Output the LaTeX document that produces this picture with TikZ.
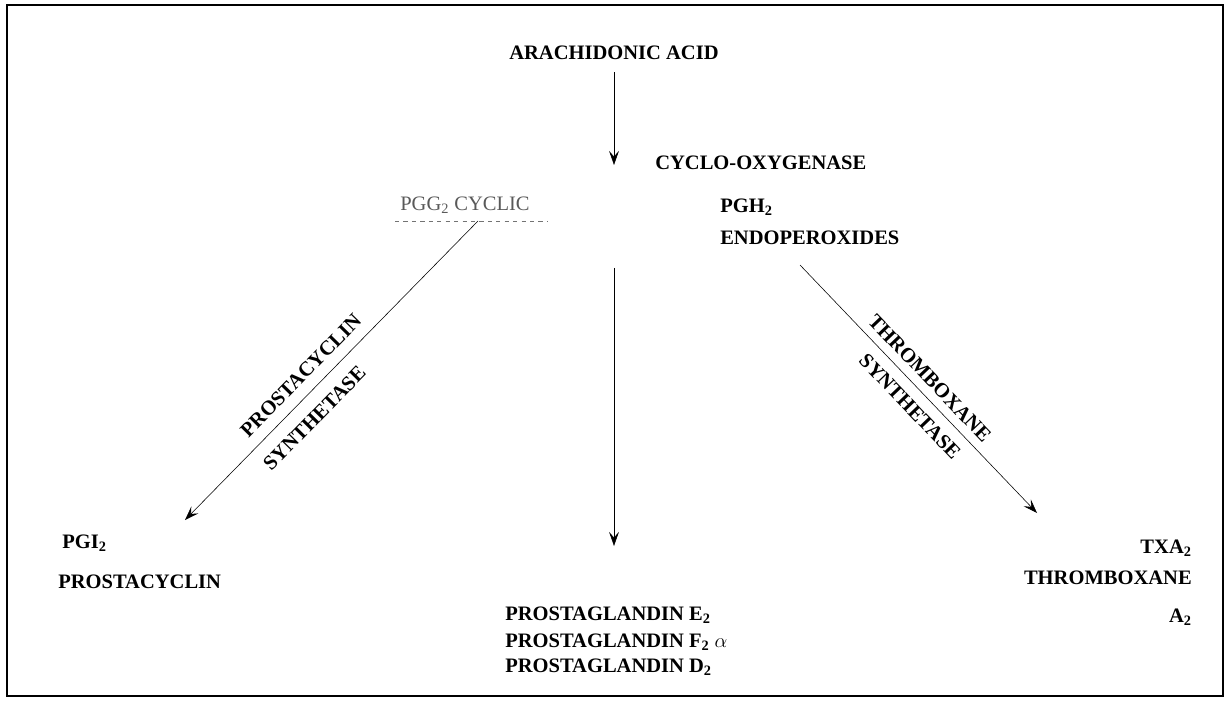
\documentclass[tikz,border=0pt]{standalone}
\usepackage{fontspec}
\setmainfont{Liberation Serif}
\usetikzlibrary{arrows.meta}

\tikzset{
  lbl/.style={font=\fontsize{14.6}{17}\selectfont\bfseries, inner sep=0pt},
  faint/.style={font=\fontsize{14.6}{17}\selectfont, inner sep=0pt, black!65},
}

\begin{document}
\begin{tikzpicture}[x=0.025cm, y=-0.025cm, >={Stealth[length=10pt,width=7pt,inset=4pt]}]
     \useasboundingbox (0,0) rectangle (1231,702);
     \draw[line width=0.8pt] (7,5) rectangle (1223,696);
     % top
     \node[lbl] (aa) at (614,53) {ARACHIDONIC ACID};
     \coordinate (cox) at (614,165);
     \draw[->,shorten <=3mm] (aa) -- (cox);
     \node[lbl,anchor=west] (cyc) at (655,163) {CYCLO-OXYGENASE};
     \node[faint,anchor=west] (pgg) at (400,205) {PGG\textsubscript{2} CYCLIC};
     \draw[black!55,dashed,thin] (395,221) -- (548,221);
     \node[lbl,anchor=west] (pgh) at (720,207) {PGH\textsubscript{2}};
     \node[lbl,anchor=west] (endo) at (720,238) {ENDOPEROXIDES};
     % arrow ends
     \coordinate (pggs) at (478,221);
     \coordinate (pgis) at (185,520);
     \coordinate (mids) at (614,268);
     \coordinate (mide) at (614,546);
     \coordinate (pghs) at (800,265);
     \coordinate (txas) at (1037,513);
     \draw[->] (pggs) -- (pgis)
       node[lbl,pos=0.56,sloped,above=8pt] (pcy) {PROSTACYCLIN}
       node[lbl,pos=0.61,sloped,below=10pt] (syn1) {SYNTHETASE};
     \draw[->] (mids) -- (mide);
     \draw[->] (pghs) -- (txas)
       node[lbl,pos=0.5,sloped,above=6pt] (thx) {THROMBOXANE}
       node[lbl,pos=0.52,sloped,below=8pt] (syn2) {SYNTHETASE};
     % products
     \node[lbl,anchor=west] (pgi) at (62,543) {PGI\textsubscript{2}};
     \node[lbl,anchor=west] (pcyc) at (58,582) {PROSTACYCLIN};
     \foreach \y/\t in {615/E\textsubscript{2}, 642/F\textsubscript{2} $\alpha$, 667/D\textsubscript{2}}
       \node[lbl,anchor=west] at (505,\y) {PROSTAGLANDIN \t};
     \node[lbl,anchor=east] (txa) at (1192,548) {TXA\textsubscript{2}};
     \node[lbl,anchor=east] (thr) at (1192,578) {THROMBOXANE};
     \node[lbl,anchor=east] (a2) at (1192,617) {A\textsubscript{2}};
\end{tikzpicture}
\end{document}
